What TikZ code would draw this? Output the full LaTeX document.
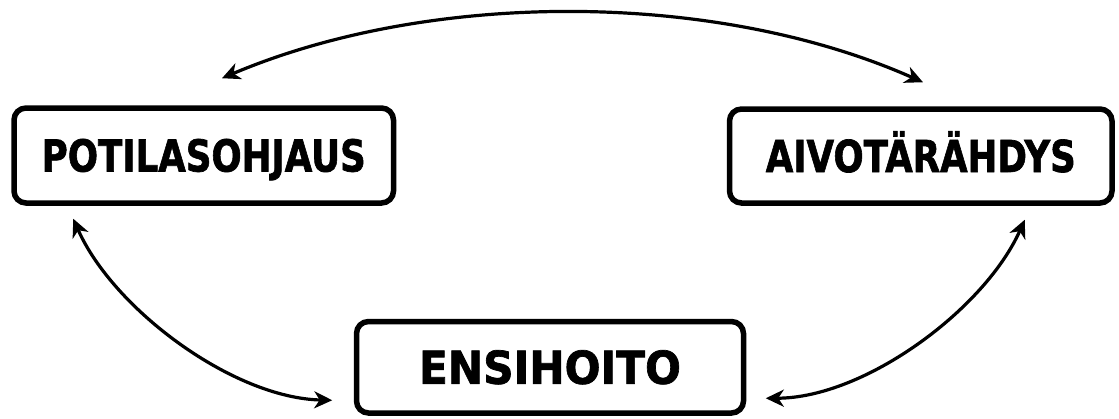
\documentclass[tikz,border=0pt]{standalone}
\usepackage{fontspec}
\usepackage{graphicx}
\setmainfont{DejaVu Sans}[BoldFeatures={FakeBold=1.6}]
\usetikzlibrary{arrows.meta,calc}
% stretch a label horizontally to a given width, keeping its height
\newcommand{\fitlabel}[2]{\resizebox{#1}{\height}{#2}}
\begin{document}
\begin{tikzpicture}[x=1pt,y=-1pt,
  box/.style={draw,line width=5.5pt,rounded corners=12pt,inner sep=0pt,
    text height=32pt,text depth=0pt,
    font=\bfseries\fontsize{44}{44}\selectfont},
  bigbox/.style={box,text height=33pt,font=\bfseries\fontsize{45.3}{45.3}\selectfont},
  link/.style={line width=3.2pt,{Stealth[length=18pt,width=17pt,inset=5.5pt]}-{Stealth[length=18pt,width=17pt,inset=5.5pt]}}
]
\useasboundingbox (0,0) rectangle (1119,418);

% the three topics
\node[box,minimum width=379.5pt,minimum height=95pt] (pot) at (203.75,155.5)
  {\fitlabel{324pt}{POTILASOHJAUS}};
\node[box,minimum width=382.5pt,minimum height=94pt] (aiv) at (920.75,156)
  {\fitlabel{310pt}{AIVOTÄRÄHDYS}};
\node[bigbox,minimum width=387pt,minimum height=91.5pt] (ens) at (550,367.25)
  {\fitlabel{262pt}{ENSIHOITO}};

% arrow end points beside the boxes
\coordinate (potTop) at ($(pot.north)+(18.25,-27)$);
\coordinate (aivTop) at ($(aiv.north)+(2.25,-24)$);
\coordinate (potLow) at ($(pot.south west)+(62,13)$);
\coordinate (aivLow) at ($(aiv.south east)+(-90,14)$);
\coordinate (ensL) at ($(ens.west)+(-21.5,33)$);
\coordinate (ensR) at ($(ens.east)+(19.5,31)$);

% two-way links
\draw[link] (potTop) .. controls (430,-10) and (715,-10) .. (aivTop);
\draw[link] (potLow) .. controls (113,309) and (233,398) .. (ensL);
\draw[link] (aivLow) .. controls (985,309) and (865,398) .. (ensR);
\end{tikzpicture}
\end{document}
